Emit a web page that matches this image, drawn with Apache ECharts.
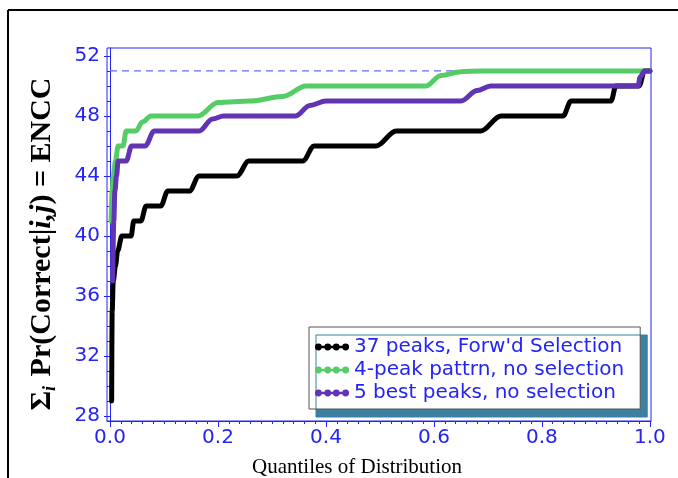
<!DOCTYPE html>
<html lang="en">
<head>
    <meta charset="UTF-8">
    <title>ENCC quantiles</title>
    <script src="https://cdn.jsdelivr.net/npm/echarts@6/dist/echarts.min.js"></script>
    <style>
        html, body { margin: 0; padding: 0; background: #fff; }
        #main { width: 678px; height: 478px; }
    </style>
</head>
<body>
<div id="main"></div>

<script>
    // series names (legend)
    var seriesNames = ["37 peaks, Forw'd Selection", "4-peak pattrn, no selection", "5 best peaks, no selection"];

    // 37 peaks, forward selection
    var blackQ = [0.003, 0.004, 0.006, 0.010, 0.014, 0.022, 0.039, 0.044, 0.057, 0.067, 0.094, 0.107, 0.147, 0.165, 0.235, 0.257, 0.357, 0.378, 0.493, 0.530, 0.687, 0.724, 0.839, 0.854, 0.928, 0.937, 0.980, 0.990, 1.000];
    var blackV = [29, 35, 37, 38, 39, 40, 40, 41, 41, 42, 42, 43, 43, 44, 44, 45, 45, 46, 46, 47, 47, 48, 48, 49, 49, 50, 50, 51, 51];

    // 4-peak pattern, no selection
    var greenQ = [0.002, 0.004, 0.006, 0.010, 0.015, 0.024, 0.030, 0.048, 0.060, 0.076, 0.163, 0.200, 0.260, 0.320, 0.363, 0.585, 0.613, 0.650, 0.690, 1.000];
    var greenV = [41, 43, 44, 45, 46, 46, 47, 47, 47.6, 48, 48, 48.9, 49, 49.3, 50, 50, 50.7, 50.95, 51, 51];

    // 5 best peaks, no selection
    var purpleQ = [0.005, 0.007, 0.009, 0.012, 0.015, 0.030, 0.040, 0.065, 0.082, 0.165, 0.190, 0.210, 0.344, 0.370, 0.400, 0.650, 0.680, 0.705, 0.978, 0.982, 0.990, 1.000];
    var purpleV = [37, 41, 43, 44, 45, 45, 46, 46, 47, 47, 47.8, 48, 48, 48.7, 49, 49, 49.7, 50, 50, 50.6, 51, 51];

    // dashed reference level
    var refLevel = 51;

    // tick labels
    var xTicks = [0.0, 0.2, 0.4, 0.6, 0.8, 1.0];
    var yTicks = [28, 32, 36, 40, 44, 48, 52];

    var xMinor = [];
    for (var i = 0; i <= 50; i++) xMinor.push(i / 50);
    var yMinor = [];
    for (var k = 28; k <= 52; k++) yMinor.push(k);

    function zip(a, b) {
        return a.map(function (v, j) { return [v, b[j]]; });
    }

    var blue = '#2424f4';
    var tickFont = 'DejaVu Sans';

    var myChart = echarts.init(document.getElementById('main'), null, {renderer: 'canvas'});

    function lineSeries(name, q, v, color) {
        return {
            name: name,
            type: 'line',
            data: zip(q, v),
            showSymbol: false,
            smooth: 0.35,
            smoothMonotone: 'x',
            itemStyle: {color: color},
            lineStyle: {color: color, width: 5, cap: 'round', join: 'round'},
            silent: true
        };
    }

    var legendIcon = 'path://M0,2.6H40V5.4H0Z' +
        'M0,4a4,4 0 1,1 8,0a4,4 0 1,1 -8,0Z' +
        'M11,4a4,4 0 1,1 8,0a4,4 0 1,1 -8,0Z' +
        'M21,4a4,4 0 1,1 8,0a4,4 0 1,1 -8,0Z' +
        'M32,4a4,4 0 1,1 8,0a4,4 0 1,1 -8,0Z';

    var serif = 'Liberation Serif';

    var option = {
        backgroundColor: '#fff',
        animation: false,
        grid: {
            left: 107, right: 27, top: 48, bottom: 57,
            show: true, borderColor: blue, borderWidth: 1, backgroundColor: 'transparent'
        },
        legend: {
            data: seriesNames,
            orient: 'vertical',
            left: 309, top: 327,
            padding: [10, 16, 6, 6],
            itemWidth: 34, itemHeight: 7, itemGap: 3,
            icon: legendIcon,
            selectedMode: false,
            backgroundColor: '#fff',
            borderColor: '#555', borderWidth: 1,
            shadowColor: '#3b7fa1', shadowBlur: 0, shadowOffsetX: 7, shadowOffsetY: 8,
            textStyle: {color: blue, fontFamily: tickFont, fontSize: 20, lineHeight: 20}
        },
        xAxis: [{
            type: 'value', min: -0.0056, max: 1.002,
            axisLine: {show: true, lineStyle: {color: blue}},
            axisTick: {show: true, length: 6, customValues: xTicks, lineStyle: {color: blue}},
            axisLabel: {
                customValues: xTicks, margin: 7, color: blue, fontFamily: tickFont, fontSize: 20,
                formatter: function (v) { return v.toFixed(1); }
            },
            splitLine: {show: false}
        }, {
            type: 'value', min: -0.0056, max: 1.002, position: 'bottom',
            axisLine: {show: false},
            axisTick: {show: true, length: 3, customValues: xMinor, lineStyle: {color: blue}},
            axisLabel: {show: false},
            splitLine: {show: false}
        }],
        yAxis: [{
            type: 'value', min: 27.67, max: 52.53,
            axisLine: {show: true, lineStyle: {color: blue}},
            axisTick: {show: true, length: 6, customValues: yTicks, lineStyle: {color: blue}},
            axisLabel: {customValues: yTicks, margin: 7, color: blue, fontFamily: tickFont, fontSize: 20},
            splitLine: {show: false}
        }, {
            type: 'value', min: 27.67, max: 52.53, position: 'left',
            axisLine: {show: false},
            axisTick: {show: true, length: 3, customValues: yMinor, lineStyle: {color: blue}},
            axisLabel: {show: false},
            splitLine: {show: false}
        }],
        series: [
            {
                name: 'ref',
                type: 'line',
                data: [[0, refLevel], [1, refLevel]],
                showSymbol: false,
                silent: true,
                lineStyle: {color: '#6a6af5', width: 1.3, type: [7, 5]}
            },
            lineSeries(seriesNames[0], blackQ, blackV, '#000000'),
            lineSeries(seriesNames[1], greenQ, greenV, '#55cc66'),
            lineSeries(seriesNames[2], purpleQ, purpleV, '#6233b3')
        ],
        graphic: [
            // outer frame (top and left only)
            {type: 'line', shape: {x1: 8, y1: 10, x2: 678, y2: 10}, style: {stroke: '#000', lineWidth: 2}},
            {type: 'line', shape: {x1: 8, y1: 10, x2: 8, y2: 478}, style: {stroke: '#000', lineWidth: 2}},
            {
                type: 'text', x: 42, y: 244, rotation: Math.PI / 2,
                style: {
                    text: '{sig|Σ}{s|i}{b| Pr(Correct|}{bi|i,j}{b|) = ENCC}',
                    align: 'center', verticalAlign: 'middle',
                    fill: '#000',
                    rich: {
                        sig: {fontFamily: serif, fontWeight: 'bold', fontSize: 30, lineHeight: 34},
                        s: {fontFamily: serif, fontWeight: 'bold', fontStyle: 'italic', fontSize: 18, lineHeight: 34, verticalAlign: 'bottom', padding: [0, 2, 0, 0]},
                        b: {fontFamily: serif, fontWeight: 'bold', fontSize: 30, lineHeight: 34},
                        bi: {fontFamily: serif, fontWeight: 'bold', fontStyle: 'italic', fontSize: 30, lineHeight: 34}
                    }
                }
            },
            {
                type: 'text', x: 357, y: 467,
                style: {
                    text: 'Quantiles of Distribution',
                    align: 'center', verticalAlign: 'middle',
                    fill: '#000', font: '21px "Liberation Serif"'
                }
            }
        ]
    };

    myChart.setOption(option);
</script>
</body>
</html>
